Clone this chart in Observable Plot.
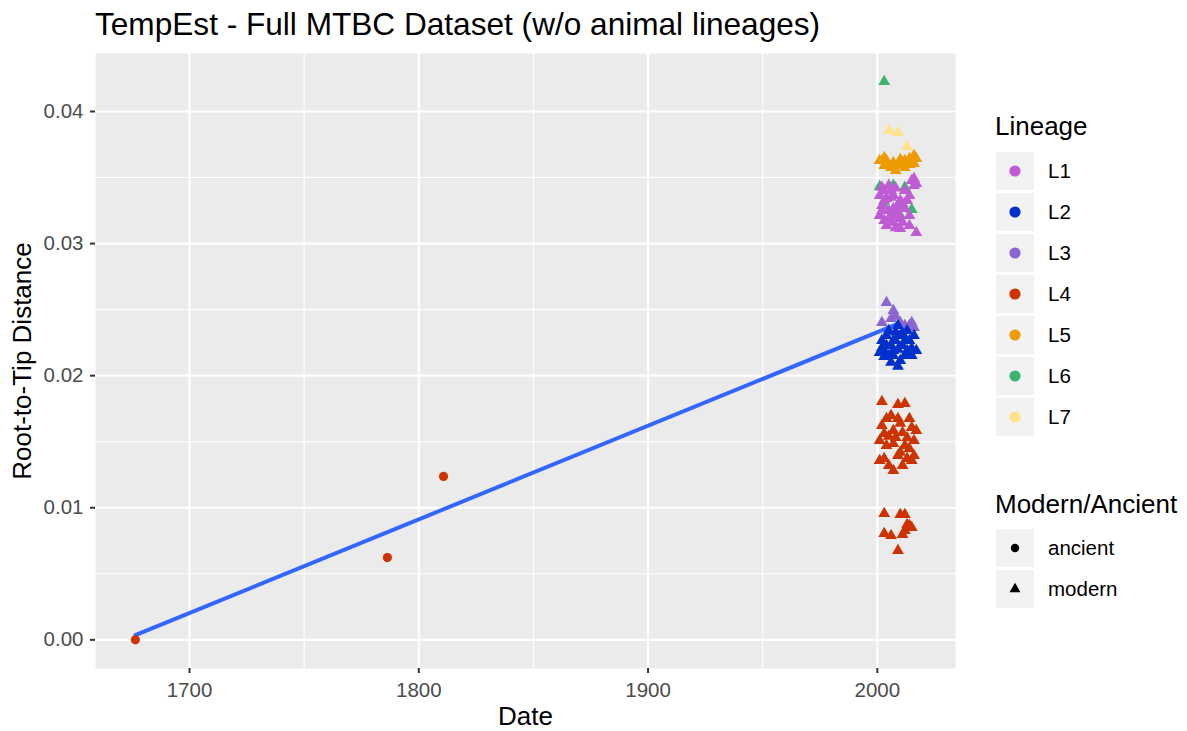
<!DOCTYPE html>
<html><head><meta charset="utf-8">
<script src="https://cdn.jsdelivr.net/npm/d3@7"></script>
<script src="https://cdn.jsdelivr.net/npm/@observablehq/plot@0.6"></script>
<style>
body{margin:0;background:#fff;font-family:"Liberation Sans",Arial,Helvetica,sans-serif;}
#wrap{position:relative;width:1187px;height:731px;overflow:hidden;}
#chart{position:absolute;left:0;top:0;}
.t{position:absolute;white-space:nowrap;color:#000;}
.key{position:absolute;width:38px;height:38px;background:#F2F2F2;}
.key svg{position:absolute;left:0;top:0;}
</style></head>
<body><div id="wrap"><div id="chart"></div></div>
<script>
// ---- data (Date, Root-to-Tip Distance) ----
const lineages = ["L1","L2","L3","L4","L5","L6","L7"];
const lineageColors = ["#BF5BD4","#0030CC","#8C66D0","#CC3300","#ED9B00","#3CB371","#FFE38B"];
const typeLabels = ["ancient","modern"];
const xTicks = [1700,1800,1900,2000];
const xMinor = [1750,1850,1950];
const yTicks = [0,0.01,0.02,0.03,0.04];
const yMinor = [0.005,0.015,0.025,0.035];

const ancientL4 = [[1676.4,0.0000],[1786.3,0.00623],[1810.8,0.01237]];

const modernL7 = [[2005,0.03855],[2009,0.03840],[2013,0.03734]];
const modernL6 = [[2003,0.04226],[2001,0.03432],[2007,0.03440],[2012,0.03425],[2015,0.03258],[2003,0.03288],[2010,0.03212]];
const modernL5 = [[2003,0.03651],[2004,0.03629],[2007,0.03614],[2004,0.03606],[2010,0.03591],[2012,0.03629],[2014,0.03644],[2016,0.03666],[2016,0.03606],[2006,0.03576],[2008,0.03553],[2012,0.03576],[2010,0.03636],[2001,0.03629],[2015,0.03629],[2017,0.03644],[2011,0.03614],[2014,0.03598],[2003,0.03590],[2009,0.03600]];
const modernL1 = [[2003,0.03402],[2005,0.03440],[2003,0.03326],[2002,0.03288],[2005,0.03250],[2007,0.03364],[2010,0.03326],[2012,0.03402],[2015,0.03477],[2016,0.03440],[2016,0.03492],[2001,0.03212],[2003,0.03175],[2007,0.03160],[2010,0.03190],[2014,0.03212],[2009,0.03288],[2007,0.03212],[2004,0.03137],[2010,0.03114],[2017,0.03084],[2012,0.03265],[2014,0.03364],[2004,0.03341],[2002,0.03425],[2017,0.03455],[2013,0.03326],[2006,0.03402],[2007,0.03265],[2011,0.03160],[2001,0.03364],[2014,0.03137],[2006,0.03350],[2009,0.03230],[2005,0.03190],[2008,0.03420],[2011,0.03300],[2002,0.03250],[2008,0.03120]];
const modernL3 = [[2004,0.02553],[2007,0.02493],[2006,0.02432],[2010,0.02402],[2012,0.02379],[2014,0.02379],[2016,0.02364],[2008,0.02450],[2002,0.02402],[2015,0.02402]];
const modernL2 = [[2002,0.02266],[2004,0.02304],[2004,0.02228],[2005,0.02341],[2007,0.02190],[2008,0.02266],[2010,0.02304],[2011,0.02228],[2012,0.02152],[2013,0.02341],[2014,0.02266],[2015,0.02206],[2016,0.02304],[2017,0.02190],[2003,0.02190],[2007,0.02152],[2009,0.02070],[2006,0.02100],[2010,0.02115],[2013,0.02190],[2015,0.02152],[2001,0.02175],[2003,0.02145],[2009,0.02379],[2011,0.02319],[2007,0.02266],[2005,0.02152],[2012,0.02266],[2006,0.02230],[2009,0.02200],[2014,0.02180],[2002,0.02210],[2008,0.02330]];
const modernL4 = [[2002,0.01804],[2009,0.01781],[2012,0.01789],[2009,0.01675],[2004,0.01675],[2014,0.01675],[2006,0.01698],[2002,0.01622],[2003,0.01561],[2007,0.01584],[2008,0.01531],[2011,0.01569],[2015,0.01607],[2001,0.01508],[2004,0.01470],[2007,0.01485],[2012,0.01470],[2014,0.01447],[2003,0.01372],[2009,0.01395],[2016,0.01395],[2005,0.01319],[2011,0.01319],[2007,0.01281],[2015,0.01357],[2001,0.01357],[2013,0.01372],[2017,0.01584],[2016,0.01508],[2010,0.01640],[2005,0.01540],[2010,0.01420],[2013,0.01530],
  [2003,0.00956],[2010,0.00949],[2012,0.00949],[2013,0.00873],[2015,0.00850],[2012,0.00827],[2003,0.00805],[2006,0.00790],[2011,0.00797],[2009,0.00676],[2014,0.00865]];

// linear fit endpoints
const fitDates = [1676.4, 2010];
const fitDist = [0.00036, 0.0240];

// ---- build tables ----
const rows = (arr, lineage, type) => arr.map(([date, dist]) => ({date, dist, lineage, type}));
const modern = [
  ...rows(modernL7,"L7","modern"), ...rows(modernL6,"L6","modern"), ...rows(modernL5,"L5","modern"),
  ...rows(modernL1,"L1","modern"), ...rows(modernL3,"L3","modern"), ...rows(modernL2,"L2","modern"),
  ...rows(modernL4,"L4","modern")
];
const ancient = rows(ancientL4,"L4","ancient");
const fit = fitDates.map((d,i) => ({date:d, dist:fitDist[i]}));

const FONT = "Liberation Sans, Arial, Helvetica, sans-serif";
const chart = Plot.plot({
  width: 975, height: 731,
  marginTop: 53, marginBottom: 63, marginLeft: 95, marginRight: 20,
  style: {fontFamily: FONT, background: "transparent", overflow: "visible"},
  x: {domain: [1659, 2034.1]},
  y: {domain: [-0.00217, 0.04439]},
  color: {domain: lineages, range: lineageColors},
  symbol: {domain: typeLabels, range: ["circle","triangle"]},
  marks: [
    Plot.frame({fill: "#EBEBEB", stroke: "none"}),
    Plot.ruleX(xMinor, {x: d => d, stroke: "#FFFFFF", strokeWidth: 1.1}),
    Plot.ruleY(yMinor, {y: d => d, stroke: "#FFFFFF", strokeWidth: 1.1}),
    Plot.ruleX(xTicks, {x: d => d, stroke: "#FFFFFF", strokeWidth: 2.2}),
    Plot.ruleY(yTicks, {y: d => d, stroke: "#FFFFFF", strokeWidth: 2.2}),
    Plot.axisX(xTicks, {tickSize: 5, tickPadding: 9, tickFormat: d => String(d), fontSize: 20.5, stroke: "#333333", fill: "#4D4D4D", strokeWidth: 2, label: null}),
    Plot.axisY(yTicks, {tickSize: 5, tickPadding: 7, tickFormat: d3.format(".2f"), fontSize: 20.5, stroke: "#333333", fill: "#4D4D4D", strokeWidth: 2, label: null}),
    Plot.line(fit, {x: "date", y: "dist", stroke: "#3366FF", strokeWidth: 4}),
    Plot.dot(modern, {x: "date", y: "dist", fill: "lineage", symbol: "type", r: 4.4, stroke: "none"}),
    Plot.dot(ancient, {x: "date", y: "dist", fill: "lineage", symbol: "type", r: 4.6, stroke: "none"}),
    Plot.text(["Date"], {text: d => d, frameAnchor: "bottom", dy: 48, fontSize: 26, fill: "#000", lineAnchor: "middle"}),
    Plot.text(["Root-to-Tip Distance"], {text: d => d, frameAnchor: "left", dx: -73, rotate: -90, fontSize: 26, fill: "#000", textAnchor: "middle", lineAnchor: "middle"})
  ]
});
document.getElementById("chart").appendChild(chart);

// ---- title and legends (HTML) ----
const wrap = document.getElementById("wrap");
function addText(txt, left, centerY, size, h) {
  const d = document.createElement("div");
  d.className = "t";
  d.textContent = txt;
  d.style.left = left + "px";
  d.style.top = (centerY - h/2) + "px";
  d.style.height = h + "px";
  d.style.lineHeight = h + "px";
  d.style.fontSize = size + "px";
  wrap.appendChild(d);
}
function addKey(top, svgInner) {
  const k = document.createElement("div");
  k.className = "key";
  k.style.left = "996px";
  k.style.top = top + "px";
  k.innerHTML = `<svg width="38" height="38">${svgInner}</svg>`;
  wrap.appendChild(k);
}
addText("TempEst - Full MTBC Dataset (w/o animal lineages)", 95, 24, 31.6, 40);

addText("Lineage", 995, 126, 26, 30);
lineages.forEach((l, i) => {
  const top = 152 + i * 41;
  addKey(top, `<circle cx="19" cy="19" r="5.6" fill="${lineageColors[i]}"/>`);
  addText(l, 1048, top + 19, 20.5, 24);
});

addText("Modern/Ancient", 995, 504, 26, 30);
const tri = d3.symbol(d3.symbolTriangle, 52)();
addKey(529, `<circle cx="19" cy="19" r="4.2" fill="#000"/>`);
addText(typeLabels[0], 1048, 548, 20.5, 24);
addKey(570, `<path transform="translate(19,19)" d="${tri}" fill="#000"/>`);
addText(typeLabels[1], 1048, 589, 20.5, 24);
</script>
</body></html>
